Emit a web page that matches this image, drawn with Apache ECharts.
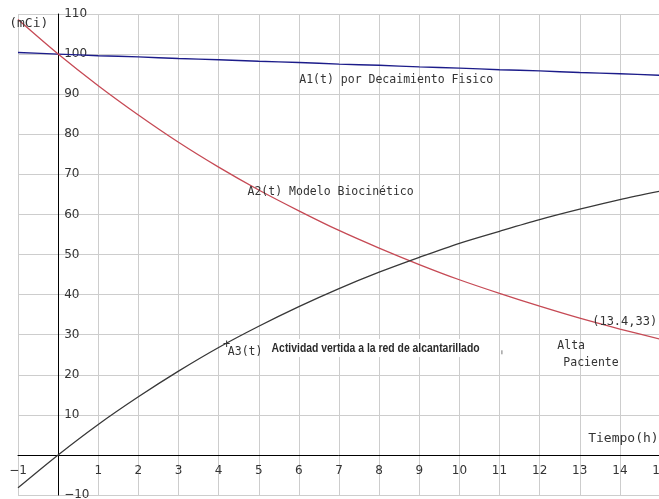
<!DOCTYPE html>
<html>
<head>
<meta charset="utf-8">
<script src="https://cdn.jsdelivr.net/npm/echarts@6/dist/echarts.min.js"></script>
<style>
  html, body { margin: 0; padding: 0; background: #ffffff; }
  #chart { width: 659px; height: 499px; }
</style>
</head>
<body>
<div id="chart"></div>
<script>
// Time (hours) at which each activity was read
const tiempo = [-1, 0, 1, 2, 3, 4, 5, 6, 7, 8, 9, 10, 11, 12, 13, 14, 15];

// A1(t): physical decay (mCi)
const a1Fisico = [100.4, 100, 99.6, 99.3, 98.9, 98.6, 98.2, 97.9, 97.5, 97.2, 96.8, 96.5, 96.1, 95.8, 95.4, 95.1, 94.7];

// A2(t): biokinetic model (mCi)
const a2Biocinetico = [108.6, 100, 92.1, 84.8, 78.0, 71.8, 66.1, 60.9, 56.0, 51.6, 47.5, 43.7, 40.3, 37.1, 34.1, 31.4, 28.9];

// A3(t): activity discharged to the sewer network (mCi)
const a3Vertida = [-8.2, 0, 7.6, 14.5, 20.9, 26.8, 32.1, 37.0, 41.5, 45.6, 49.3, 52.8, 55.8, 58.7, 61.3, 63.7, 65.8];

// Axis ranges and tick steps
const xRange = [-1, 15], xStep = 1;
const yRange = [-10, 110], yStep = 10;

const MONO = '"DejaVu Sans Mono", "Liberation Mono", monospace';
const SANS = '"DejaVu Sans", Verdana, sans-serif';

const pairs = (ys) => tiempo.map((t, i) => [t, ys[i]]);
const minus = (v) => (v === 0 ? '' : String(v).replace('-', '\u2212'));

const chart = echarts.init(document.getElementById('chart'), null, { renderer: 'canvas' });

chart.setOption({
  animation: false,
  backgroundColor: '#ffffff',
  grid: { left: 18, right: -1, top: 14, bottom: 4, containLabel: false, outerBoundsMode: 'none' },
  xAxis: {
    type: 'value', position: 'bottom',
    min: xRange[0], max: xRange[1], interval: xStep,
    axisLine: { show: true, onZero: false, lineStyle: { color: '#000', width: 1 } },
    axisTick: { show: false },
    splitLine: { show: true, lineStyle: { color: '#cdcdcd', width: 1 } },
    axisLabel: {
      show: true, margin: 10, color: '#333', fontFamily: SANS, fontSize: 12,
      showMinLabel: true, showMaxLabel: true, hideOverlap: false,
      formatter: minus
    }
  },
  yAxis: {
    type: 'value', position: 'left',
    min: yRange[0], max: yRange[1], interval: yStep,
    axisLine: { show: true, onZero: false, lineStyle: { color: '#000', width: 1 } },
    axisTick: { show: false },
    splitLine: { show: true, lineStyle: { color: '#cdcdcd', width: 1 } },
    axisLabel: {
      show: true, inside: true, margin: 6, color: '#333', fontFamily: SANS, fontSize: 12,
      showMinLabel: true, showMaxLabel: true, hideOverlap: false,
      formatter: minus
    }
  },
  series: [
    {
      name: 'A1(t)', type: 'line', data: pairs(a1Fisico), smooth: 0.3,
      showSymbol: false, clip: true,
      lineStyle: { color: '#1c1c8a', width: 1.4 }
    },
    {
      name: 'A2(t)', type: 'line', data: pairs(a2Biocinetico), smooth: 0.3,
      showSymbol: false, clip: true,
      lineStyle: { color: '#c64a55', width: 1.3 }
    },
    {
      name: 'A3(t)', type: 'line', data: pairs(a3Vertida), smooth: 0.3,
      showSymbol: false, clip: true,
      lineStyle: { color: '#383838', width: 1.3 }
    }
  ]
});

const toPx = (t, v) => chart.convertToPixel({ gridIndex: 0 }, [t, v]);

// Move both axes so they cross at the origin, labels included
const origen = toPx(0, 0);
const esquina = toPx(xRange[0], yRange[0]);
chart.setOption({
  xAxis: { offset: -(esquina[1] - origen[1]) },
  yAxis: { offset: -(origen[0] - esquina[0]) }
});

// Text annotations placed in data coordinates
const notas = [
  { text: '(mCi)', t: -1.22, v: 107.7, font: '13px ' + MONO },
  { text: 'A1(t) por Decaimiento Fisico', t: 6.01, v: 93.5, font: '11.5px ' + MONO },
  { text: 'A2(t) Modelo Biocinético', t: 4.72, v: 65.6, font: '11.5px ' + MONO },
  { text: 'A3(t)', t: 4.23, v: 25.7, font: '11.5px ' + MONO },
  { text: '(13.4,33)', t: 13.31, v: 33.2, font: '12px ' + MONO },
  { text: 'Alta', t: 12.44, v: 27.2, font: '11.5px ' + MONO },
  { text: 'Paciente', t: 12.59, v: 22.9, font: '11.5px ' + MONO },
  { text: 'Tiempo(h)', t: 13.21, v: 4.0, font: '13px ' + MONO }
];

// Bold caption with a white box behind it
const leyendaA3 = { text: 'Actividad vertida a la red de alcantarillado', t: 5.32, v: 26.7, width: 208 };

const boldFamily = '"Liberation Sans", Arial, sans-serif';
const boldFont = 'bold 13.5px ' + boldFamily;
const ctx = document.createElement('canvas').getContext('2d');
ctx.font = boldFont;
const anchoNatural = ctx.measureText(leyendaA3.text).width;

const graficos = [];
const pBold = toPx(leyendaA3.t, leyendaA3.v);
graficos.push({
  type: 'rect', z: 10,
  shape: { x: pBold[0] - 5, y: pBold[1] - 9, width: leyendaA3.width + 23, height: 18 },
  style: { fill: '#ffffff' }
});
graficos.push({
  type: 'text', z: 11, x: pBold[0], y: pBold[1],
  scaleX: leyendaA3.width / anchoNatural, scaleY: 1,
  style: {
    text: leyendaA3.text, font: boldFont,
    fill: '#2b2b2b', align: 'left', verticalAlign: 'middle'
  }
});
// small stroke at the right end of the caption box
const pTick = toPx(11.06, 25.6);
graficos.push({
  type: 'line', z: 11,
  shape: { x1: pTick[0], y1: pTick[1] - 2, x2: pTick[0], y2: pTick[1] + 2 },
  style: { stroke: '#777', lineWidth: 1 }
});

// "+" marker next to the A3 label
const pMas = toPx(4.2, 27.4);
graficos.push({
  type: 'text', z: 12, x: pMas[0], y: pMas[1],
  style: { text: '+', font: '12px ' + MONO, fill: '#333', align: 'center', verticalAlign: 'middle' }
});

notas.forEach((n) => {
  const p = toPx(n.t, n.v);
  graficos.push({
    type: 'text', z: 12, x: p[0], y: p[1],
    style: { text: n.text, font: n.font, fill: '#333', align: 'left', verticalAlign: 'middle' }
  });
});

chart.setOption({ graphic: graficos });
</script>
</body>
</html>
